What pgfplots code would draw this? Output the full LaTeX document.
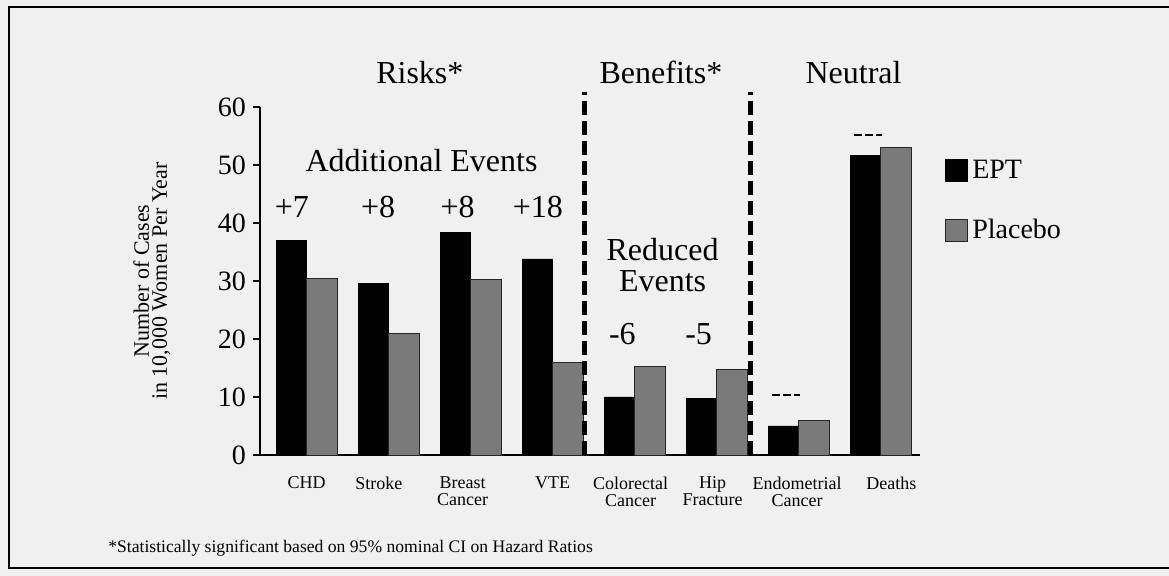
\documentclass[border=0pt]{standalone}
\usepackage{fontspec}
\setmainfont{Liberation Serif}
\usepackage{pgfplots}
\pgfplotsset{compat=1.18}
\begin{document}
\begin{tikzpicture}
\fill[black!6] (0,0) rectangle (584.5pt,288pt);
\useasboundingbox (0,0) rectangle (584.5pt,288pt);
\begin{axis}[
  at={(130pt,60.5pt)}, anchor=south west,
  scale only axis, width=330pt, height=174pt,
  xmin=-0.57, xmax=7.48, ymin=0, ymax=60,
  axis x line=bottom, axis y line=left,
  axis line style={line width=1pt, -},
  ytick={0,10,...,60},
  xtick={0,0.88,1.9,3,3.95,4.95,5.98,7.13},
  xticklabels={CHD, Stroke, Breast\\Cancer, VTE, Colorectal\\Cancer, Hip\\Fracture, Endometrial\\Cancer, Deaths},
  xticklabel style={align=center, font=\fontsize{9}{8.5}\selectfont, anchor=north, yshift=-4pt},
  x tick style={draw=none},
  y tick style={line width=1pt, black},
  tick align=outside, major tick length=3.5pt,
  yticklabel style={font=\fontsize{14}{14}\selectfont},
  /pgf/number format/assume math mode=true,
  ylabel={Number of Cases\\in 10,000 Women Per Year},
  ylabel style={align=center, font=\fontsize{11}{9}\selectfont, at={(axis description cs:-0.164,0.5)}, anchor=center},
  clip=false,
  legend style={at={(axis description cs:1.038,0.86)}, anchor=north west, draw=none, fill=none, inner sep=0pt,
    font=\fontsize{14}{14}\selectfont, row sep=15pt},
  legend cell align=left,
]
\addplot[ybar, bar width=0.37, bar shift=-0.185, fill=black, draw=black,
  legend image code/.code={\draw[fill=black, draw=black] (0pt,-5.5pt) rectangle (11pt,5.5pt);}]
  coordinates {(0,37) (1,29.5) (2,38.3) (3,33.8) (4,10) (5,9.7) (6,5) (7,51.7)};
\addlegendentry{EPT}
\addplot[ybar, bar width=0.37, bar shift=0.185, draw=black!85, fill=black!52,
  legend image code/.code={\draw[draw=black!85, fill=black!52] (0pt,-5.5pt) rectangle (11pt,5.5pt);}]
  coordinates {(0,30.5) (1,21) (2,30.2) (3,16) (4,15.3) (5,14.7) (6,5.9) (7,53.1)};
\addlegendentry{Placebo}
% separators
\draw[line width=2.5pt, dash pattern=on 7pt off 3pt] (axis cs:3.39,0) -- (axis cs:3.39,62.6);
\draw[line width=2.5pt, dash pattern=on 7pt off 3pt] (axis cs:5.41,0) -- (axis cs:5.41,62.6);
% neutral markers
\draw[line width=1pt, dash pattern=on 4pt off 1.5pt] (axis cs:5.68,10.3) -- (axis cs:6.02,10.3);
\draw[line width=1pt, dash pattern=on 4pt off 1.5pt] (axis cs:6.68,55.2) -- (axis cs:7.02,55.2);
% titles
\node[anchor=base, font=\fontsize{16}{16}\selectfont] at (axis cs:1.38,64) {Risks*};
\node[anchor=base, font=\fontsize{16}{16}\selectfont] at (axis cs:4.32,64) {Benefits*};
\node[anchor=base, font=\fontsize{16}{16}\selectfont] at (axis cs:6.67,64) {Neutral};
\node[anchor=base, font=\fontsize{16}{16}\selectfont] at (axis cs:1.40,48.8) {Additional Events};
\node[anchor=base, font=\fontsize{16}{16}\selectfont] at (axis cs:-0.18,40.9) {+7};
\node[anchor=base, font=\fontsize{16}{16}\selectfont] at (axis cs:0.87,40.9) {+8};
\node[anchor=base, font=\fontsize{16}{16}\selectfont] at (axis cs:1.84,40.9) {+8};
\node[anchor=base, font=\fontsize{16}{16}\selectfont] at (axis cs:2.82,40.9) {+18};
\node[anchor=base, font=\fontsize{16}{16}\selectfont] at (axis cs:4.34,33.6) {Reduced};
\node[anchor=base, font=\fontsize{16}{16}\selectfont] at (axis cs:4.34,28.2) {Events};
\node[anchor=base, font=\fontsize{16}{16}\selectfont] at (axis cs:3.85,19.0) {-6};
\node[anchor=base, font=\fontsize{16}{16}\selectfont] at (axis cs:4.78,19.0) {-5};
\end{axis}
\node[anchor=base west, inner sep=0pt, font=\fontsize{8.8}{10}\selectfont] at (54pt,11.5pt) {*Statistically significant based on 95\% nominal CI on Hazard Ratios};
\draw[line width=1pt] (584.5pt,284.5pt) -- (4.5pt,284.5pt) -- (4.5pt,4pt) -- (584.5pt,4pt);
\end{tikzpicture}
\end{document}
